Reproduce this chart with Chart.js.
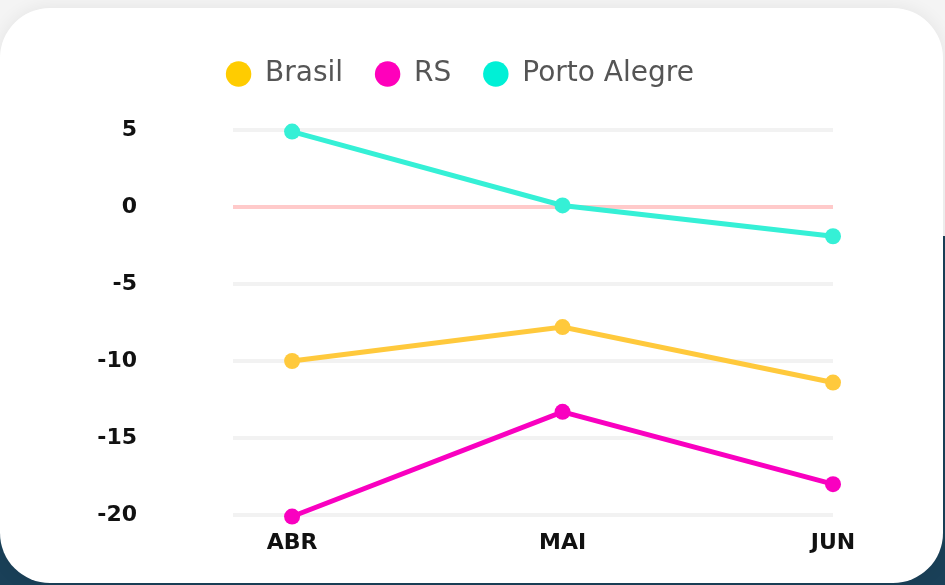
<!DOCTYPE html>
<html>
<head>
<meta charset="utf-8">
<script src="https://cdn.jsdelivr.net/npm/chart.js@4"></script>
<style>
  html, body { margin: 0; padding: 0; }
  body {
    width: 945px; height: 585px; overflow: hidden; position: relative;
    background: linear-gradient(to bottom, #f4f4f4 0, #f4f4f4 236px, #1a4058 236px);
  }
  #card {
    position: absolute; left: 0; top: 8px; width: 943px; height: 575px;
    background: #fff; border-radius: 50px;
    box-shadow: 0 0 18px rgba(0,0,0,0.07);
  }
  #myChart { position: absolute; left: 0; top: 0; width: 945px; height: 585px; }
</style>
</head>
<body>
<div id="card"></div>
<canvas id="myChart" width="945" height="585"></canvas>
<script>
// data
var months = ['ABR', 'MAI', 'JUN'];
var brasil = [-10, -7.8, -11.4];
var rs = [-20.1, -13.3, -18];
var portoAlegre = [4.9, 0.1, -1.9];
var yTicks = [5, 0, -5, -10, -15, -20];

var seriesNames = ['Brasil', 'RS', 'Porto Alegre'];
var lineColors = ['#ffc93c', '#f900c0', '#35f0d6'];
var legendColors = ['#ffcc00', '#ff00bb', '#00f0d6'];

function toPoints(values){
  return values.map(function(v, i){ return {x: i, y: v}; });
}

var seriesValues = [brasil, rs, portoAlegre];
var datasets = seriesNames.map(function(name, i){
  return {
    label: name,
    data: toPoints(seriesValues[i]),
    borderColor: lineColors[i],
    backgroundColor: lineColors[i],
    pointBackgroundColor: lineColors[i],
    pointBorderWidth: 0,
    pointRadius: 8,
    borderWidth: 5,
    tension: 0,
    clip: false
  };
});

var tickFont = {family: 'DejaVu Sans', weight: 'bold', size: 22};

// extra room under the legend
var legendGap = {
  id: 'legendGap',
  beforeLayout: function(chart){
    var legend = chart.legend;
    if(legend && !legend._gapPatched){
      var fit = legend.fit;
      legend.fit = function(){
        fit.call(this);
        this.height += 32;
      };
      legend._gapPatched = true;
    }
  }
};

new Chart(document.getElementById('myChart'), {
  type: 'line',
  data: {datasets: datasets},
  plugins: [legendGap],
  options: {
    responsive: false,
    animation: false,
    layout: {padding: {top: 28, right: 112, bottom: 0, left: 87}},
    plugins: {
      tooltip: {enabled: false},
      legend: {
        position: 'top',
        labels: {
          usePointStyle: true,
          pointStyle: 'circle',
          boxWidth: 25,
          boxHeight: 18,
          padding: 32,
          color: '#555',
          font: {family: 'DejaVu Sans', size: 28},
          generateLabels: function(chart){
            return seriesNames.map(function(name, i){
              return {
                text: name, fillStyle: legendColors[i], strokeStyle: legendColors[i],
                lineWidth: 0, pointStyle: 'circle', datasetIndex: i, fontColor: '#555'
              };
            });
          }
        }
      }
    },
    scales: {
      x: {
        type: 'linear',
        min: -0.2185,
        max: 2,
        afterBuildTicks: function(axis){
          axis.ticks = months.map(function(m, i){ return {value: i}; });
        },
        afterFit: function(axis){ axis.height = 70; },
        grid: {display: false},
        border: {display: false},
        ticks: {
          padding: 7,
          maxRotation: 0,
          color: '#111',
          font: tickFont,
          callback: function(v){ return months[v]; }
        }
      },
      y: {
        min: -20,
        max: 5,
        afterBuildTicks: function(axis){
          axis.ticks = yTicks.map(function(v){ return {value: v}; });
        },
        afterFit: function(axis){
          // big label gap, but don't let it eat vertical space
          axis.width = 146;
          axis.paddingTop = 10;
          axis.paddingBottom = 10;
        },
        grid: {
          drawTicks: false,
          lineWidth: 4,
          color: function(ctx){
            return ctx.tick && ctx.tick.value === 0 ? '#ffcaca' : '#f2f2f2';
          }
        },
        border: {display: false},
        ticks: {
          padding: 96,
          color: '#111',
          font: tickFont
        }
      }
    }
  }
});
</script>
</body>
</html>
